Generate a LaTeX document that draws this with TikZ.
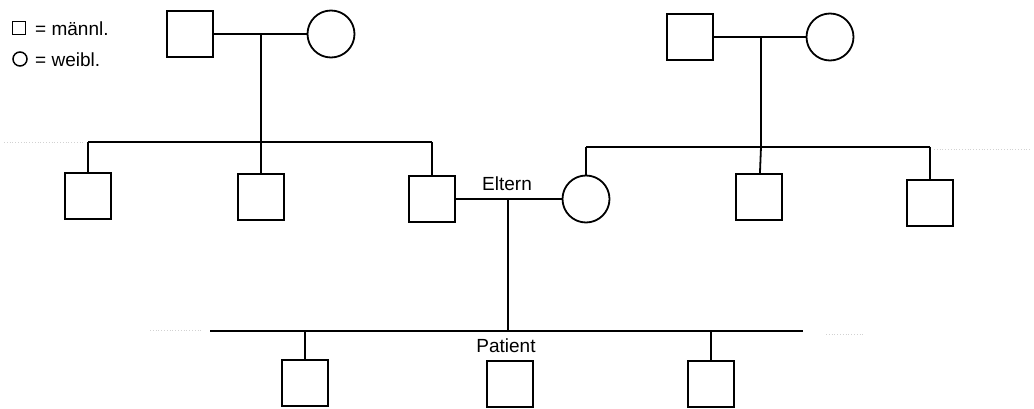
\documentclass[tikz,border=0pt]{standalone}
\usepackage{fontspec}
\setmainfont{Liberation Sans}
\usetikzlibrary{calc}

\begin{document}
\begin{tikzpicture}[x=1pt,y=-1pt]
\tikzset{male/.style={draw,rectangle,line width=1.8pt,minimum size=46pt,inner sep=0pt},
  female/.style={draw,circle,line width=1.8pt,minimum size=47pt,inner sep=0pt},
  tag/.style={font=\fontsize{19}{22}\selectfont,inner sep=1pt},
  line/.style={line width=1.8pt},
  faint/.style={gray!35,dotted,line width=0.8pt}}
\useasboundingbox (0,0) rectangle (1034,409);
% legend
\node (lm) at (19,28) [draw,rectangle,line width=1.5pt,minimum size=13pt,inner sep=0pt] {};
\node (lmt) at (34,29) [tag,anchor=west] {= männl.};
\node (lf) at (20,59) [draw,circle,line width=1.5pt,minimum size=14pt,inner sep=0pt] {};
\node (lft) at (34,60) [tag,anchor=west] {= weibl.};
% grandparents
\node (gf1) at (190,34) [male] {};
\node (gm1) at (331,34) [female] {};
\node (gf2) at (690,37) [male] {};
\node (gm2) at (830,37) [female] {};
\coordinate (j1) at (261,34);
\coordinate (j2) at (761,37);
% parents generation
\coordinate (s1a) at (88,142);
\coordinate (s1m) at (261,142);
\coordinate (s1b) at (432,142);
\coordinate (s2a) at (586,147);
\coordinate (s2m) at (761,147);
\coordinate (s2b) at (930,147);
\node (c1) at (88,196) [male] {};
\node (c2) at (261,197) [male] {};
\node (father) at (432,199) [male] {};
\node (mother) at (586,199) [female] {};
\node (c4) at (759,197) [male] {};
\node (c5) at (930,203) [male] {};
\node (eltern) at (507,184) [tag] {Eltern};
\coordinate (j3) at (508,199);
% children
\coordinate (k0) at (508,331);
\coordinate (ka) at (210,331);
\coordinate (kb) at (803,331);
\coordinate (k1t) at (305,331);
\coordinate (k3t) at (711,331);
\node (k1) at (305,383) [male] {};
\node (patient) at (510,384) [male] {};
\node (k3) at (711,384) [male] {};
\node (plabel) at (506,346) [tag] {Patient};
% faint traces
\coordinate (f1a) at (4,142);
\coordinate (f1b) at (84,142);
\coordinate (f2a) at (934,149);
\coordinate (f2b) at (1030,149);
\coordinate (f3a) at (150,330);
\coordinate (f3b) at (202,330);
\coordinate (f4a) at (826,334);
\coordinate (f4b) at (865,334);

\path
(gf1) edge [line] (gm1)
(gf2) edge [line] (gm2)
(j1) edge [line] (s1m)
(j2) edge [line] (s2m)
(s1a) edge [line] (s1b)
(s2a) edge [line] (s2b)
(s1a) edge [line] (c1)
(s1m) edge [line] (c2)
(s1b) edge [line] (father)
(s2a) edge [line] (mother)
(s2m) edge [line] (c4)
(s2b) edge [line] (c5)
(father) edge [line] (mother)
(j3) edge [line] (k0)
(ka) edge [line] (kb)
(k1t) edge [line] (k1)
(k3t) edge [line] (k3);

\path
(f1a) edge [faint] (f1b)
(f2a) edge [faint] (f2b)
(f3a) edge [faint] (f3b)
(f4a) edge [faint] (f4b);
\end{tikzpicture}
\end{document}
